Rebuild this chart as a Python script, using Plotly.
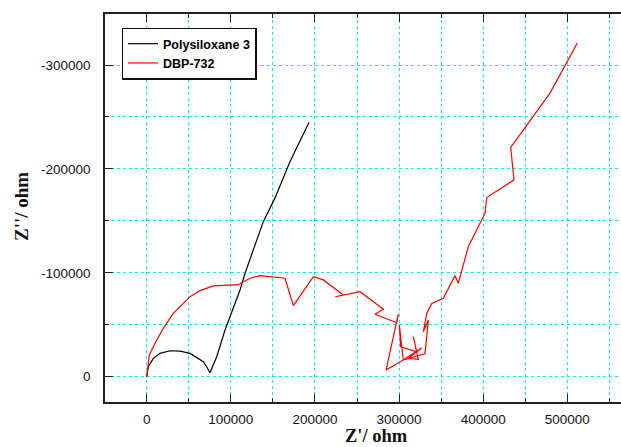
import plotly.graph_objects as go

# ---- data (Z' in ohm, Z'' in ohm) ----
poly_x = [0, 1900, 7800, 15800, 27700, 39600, 51500, 59400, 67300, 71300, 75200,
          77300, 83200, 93100, 99100, 110900, 116900, 126700, 138600, 152400,
          164300, 170400, 193000]
poly_y = [0, -9600, -17700, -22500, -25000, -24700, -22500, -18700, -14500, -9600,
          -3900, -8000, -19300, -45000, -57800, -83500, -99600, -122000, -149300,
          -171900, -194300, -207100, -245000]

dbp_x = [0, 3100, 9900, 19700, 31600, 51500, 63400, 79200, 108900, 122800, 134700,
         150500, 164400, 174300, 198100, 209900, 218000, 233700, 224200, 253600,
         281300, 271400, 297200, 299100, 284500, 305000, 300300, 301900, 320900,
         316900, 322800, 311000, 326800, 305000, 330800, 334800, 328800, 332900,
         338800, 352600, 360600, 366500, 370400, 382300, 402200, 404200, 436600,
         432700, 479400, 511900]
dbp_y = [0, -20900, -32200, -46600, -61000, -77100, -82900, -87400, -88600, -94800,
         -97300, -96300, -94800, -68400, -96300, -93200, -88300, -78700, -77000,
         -81900, -64900, -60100, -52000, -60400, -6400, -16100, -49700, -28800,
         -24000, -38500, -16700, -17700, -27600, -16100, -22000, -54600, -43300,
         -61000, -70600, -75500, -88300, -97300, -90000, -125200, -157400, -172500,
         -189500, -220600, -273000, -321200]

x_tickvals = [0, 100000, 200000, 300000, 400000, 500000]
x_ticktext = ["0", "100000", "200000", "300000", "400000", "500000"]
y_tickvals = [0, -100000, -200000, -300000]
y_ticktext = ["0", "-100000", "-200000", "-300000"]

series_names = ["Polysiloxane 3", "DBP-732"]

GRID = "#19e3ef"
AX = "#222222"
TICKFONT = dict(family="Liberation Sans, Arial, sans-serif", size=13.5, color="#111111")

fig = go.Figure()
fig.add_trace(go.Scatter(x=poly_x, y=poly_y, mode="lines", name=series_names[0],
                         line=dict(color="#000000", width=1.2)))
fig.add_trace(go.Scatter(x=dbp_x, y=dbp_y, mode="lines", name=series_names[1],
                         line=dict(color="#ff0000", width=1.2)))

fig.update_layout(
    width=621, height=447,
    margin=dict(l=105, r=0, t=14, b=45, autoexpand=False),
    paper_bgcolor="white", plot_bgcolor="white",
    showlegend=True,
    legend=dict(x=0.032, y=0.965, xanchor="left", yanchor="top",
                bgcolor="white", bordercolor="#111111", borderwidth=1.5,
                font=dict(family="Liberation Sans, Arial, sans-serif", size=12.5,
                          color="#000000", weight="bold"),
                tracegroupgap=0, itemwidth=30),
    xaxis=dict(range=[-49600, 563800], tickmode="array", tickvals=x_tickvals,
               ticktext=x_ticktext, showline=True, linecolor=AX, linewidth=1.6,
               mirror="ticks", ticks="inside", ticklen=8, tickcolor=AX, tickwidth=1.4,
               showgrid=True, gridcolor=GRID, griddash="dot", gridwidth=1,
               zeroline=False, tickfont=TICKFONT, ticklabelstandoff=4, automargin=False,
               minor=dict(tickmode="linear", tick0=0, dtick=50000, ticks="inside",
                          ticklen=4, tickcolor=AX, tickwidth=1.2, showgrid=True,
                          gridcolor=GRID, griddash="dot", gridwidth=1)),
    yaxis=dict(range=[24300, -349100], tickmode="array", tickvals=y_tickvals,
               ticktext=y_ticktext, showline=True, linecolor=AX, linewidth=1.6,
               mirror=False, ticks="inside", ticklen=8, tickcolor=AX, tickwidth=1.4,
               showgrid=True, gridcolor=GRID, griddash="dot", gridwidth=1,
               zeroline=False, tickfont=TICKFONT, ticklabelstandoff=10, automargin=False,
               minor=dict(tickmode="linear", tick0=0, dtick=50000, ticks="inside",
                          ticklen=4, tickcolor=AX, tickwidth=1.2, showgrid=True,
                          gridcolor=GRID, griddash="dot", gridwidth=1)),
    annotations=[
        dict(text="<b>Z'/ ohm</b>", xref="paper", yref="paper", x=0.527, y=-0.088,
             xanchor="center", yanchor="middle", showarrow=False,
             font=dict(family="Liberation Serif, Times New Roman, serif", size=18.5, color="#111111")),
        dict(text="<b>Z''/ ohm</b>", xref="paper", yref="paper", x=-0.163, y=0.505,
             xanchor="center", yanchor="middle", showarrow=False, textangle=-90,
             font=dict(family="Liberation Serif, Times New Roman, serif", size=19, color="#111111")),
    ],
)

fig.write_html("out.html", config={"displayModeBar": False},
               post_script="document.body.style.margin='0';document.body.style.overflow='hidden';")
